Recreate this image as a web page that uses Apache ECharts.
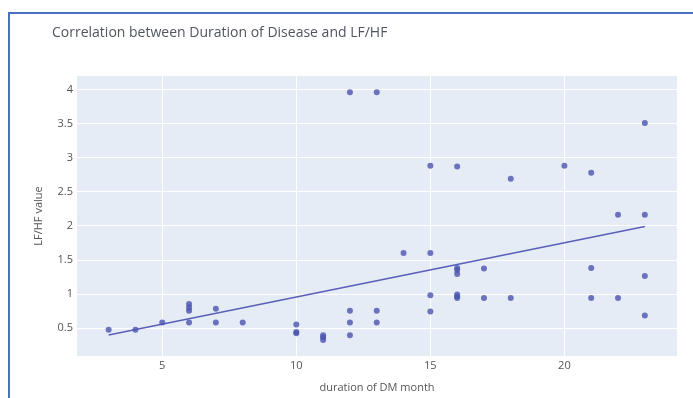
<!DOCTYPE html>
<html>
<head>
<meta charset="utf-8">
<script src="https://cdn.jsdelivr.net/npm/echarts@6/dist/echarts.min.js"></script>
<style>
  html, body { margin: 0; padding: 0; background: #fff; }
  #main { width: 693px; height: 398px; }
</style>
</head>
<body>
<div id="main"></div>
<script>
// duration of DM (months) and LF/HF for each patient
var durationMonths = [3, 4, 5, 6, 6, 6, 6, 7, 7, 8, 10, 10, 10, 11, 11, 11,
  12, 12, 12, 12, 13, 13, 13, 14, 15, 15, 15, 15, 16, 16, 16, 16, 16, 16, 16,
  17, 17, 18, 18, 20, 21, 21, 21, 22, 22, 23, 23, 23, 23];
var lfhfValues = [0.47, 0.47, 0.58, 0.85, 0.80, 0.75, 0.58, 0.78, 0.58, 0.58, 0.55, 0.44, 0.42, 0.39, 0.36, 0.32,
  3.96, 0.75, 0.58, 0.39, 3.96, 0.75, 0.58, 1.60, 2.88, 1.60, 0.98, 0.74, 2.87, 1.38, 1.35, 1.29, 0.99, 0.96, 0.94,
  1.37, 0.94, 2.69, 0.94, 2.88, 2.78, 1.38, 0.94, 2.16, 0.94, 3.51, 2.16, 1.26, 0.68];
var xTicks = [5, 10, 15, 20];
var yTicks = [0.5, 1, 1.5, 2, 2.5, 3, 3.5, 4];

// least squares fit for the trend line
function fitLine(xs, ys) {
  var n = xs.length, sx = 0, sy = 0, sxx = 0, sxy = 0;
  for (var i = 0; i < n; i++) {
    sx += xs[i]; sy += ys[i]; sxx += xs[i] * xs[i]; sxy += xs[i] * ys[i];
  }
  var b = (n * sxy - sx * sy) / (n * sxx - sx * sx);
  var a = (sy - b * sx) / n;
  return { a: a, b: b };
}

var points = durationMonths.map(function (d, i) { return [d, lfhfValues[i]]; });
var fit = fitLine(durationMonths, lfhfValues);
var xMin = Math.min.apply(null, durationMonths), xMax = Math.max.apply(null, durationMonths);
var trend = [[xMin, fit.a + fit.b * xMin], [xMax, fit.a + fit.b * xMax]];

var chart = echarts.init(document.getElementById('main'));
var labelColor = '#555';
chart.setOption({
  animation: false,
  backgroundColor: '#fff',
  title: {
    text: 'Correlation between Duration of Disease and LF/HF',
    left: 47, top: 21,
    textStyle: { fontFamily: 'Open Sans', fontSize: 14, fontWeight: 'normal', color: '#50555f' }
  },
  graphic: [{
    type: 'rect',
    shape: { x: 9, y: 13, width: 700, height: 400 },
    style: { fill: 'none', stroke: '#4a70c4', lineWidth: 2 }
  }],
  grid: { left: 77, right: 16, top: 76, bottom: 34, backgroundColor: '#e5ecf6', show: true, borderWidth: 0 },
  xAxis: {
    type: 'value', min: 1.82, max: 24.2,
    name: 'duration of DM month', nameLocation: 'middle', nameGap: 26,
    nameTextStyle: { fontFamily: 'Open Sans', fontSize: 11, color: labelColor },
    axisLine: { show: false },
    axisTick: { show: false, customValues: xTicks },
    axisLabel: { customValues: xTicks, margin: 4, fontFamily: 'Open Sans', fontSize: 11, color: labelColor },
    splitLine: { show: true, lineStyle: { color: '#fff', width: 1 } }
  },
  yAxis: {
    type: 'value', min: 0.086, max: 4.2,
    name: 'LF/HF value', nameLocation: 'middle', nameGap: 33,
    nameTextStyle: { fontFamily: 'Open Sans', fontSize: 11, color: labelColor },
    axisLine: { show: false },
    axisTick: { show: false, customValues: yTicks },
    axisLabel: { customValues: yTicks, margin: 4, fontFamily: 'Open Sans', fontSize: 11, color: labelColor },
    splitLine: { show: true, lineStyle: { color: '#fff', width: 1 } }
  },
  series: [
    {
      type: 'line', data: trend, showSymbol: false, silent: true,
      lineStyle: { color: '#5a5fb8', width: 1.6 }, z: 2
    },
    {
      type: 'scatter', data: points, symbolSize: 6,
      itemStyle: { color: '#4b54b0' }, z: 3
    }
  ]
});
</script>
</body>
</html>
